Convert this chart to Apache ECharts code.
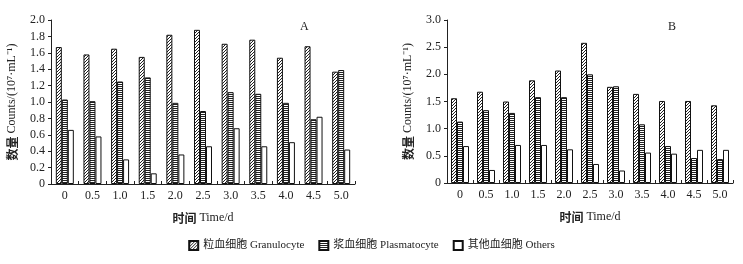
<!DOCTYPE html>
<html>
<head>
<meta charset="utf-8">
<script src="https://cdn.jsdelivr.net/npm/echarts@6/dist/echarts.min.js"></script>
<style>
  html, body { margin: 0; padding: 0; background: #fff; }
  #chart { width: 743px; height: 264px; }
</style>
</head>
<body>
<div id="chart"></div>
<script>
const times = ['0', '0.5', '1.0', '1.5', '2.0', '2.5', '3.0', '3.5', '4.0', '4.5', '5.0'];
const seriesNames = ['粒血细胞 Granulocyte', '浆血细胞 Plasmatocyte', '其他血细胞 Others'];

// panel A
const granA = [1.67, 1.58, 1.65, 1.55, 1.82, 1.88, 1.71, 1.76, 1.54, 1.68, 1.37];
const plasA = [1.03, 1.01, 1.25, 1.30, 0.99, 0.89, 1.12, 1.10, 0.99, 0.79, 1.39];
const otherA = [0.66, 0.58, 0.30, 0.13, 0.36, 0.46, 0.68, 0.46, 0.51, 0.82, 0.42];

// panel B
const granB = [1.56, 1.68, 1.50, 1.89, 2.07, 2.58, 1.77, 1.64, 1.51, 1.51, 1.43];
const plasB = [1.13, 1.34, 1.29, 1.58, 1.58, 2.00, 1.78, 1.08, 0.68, 0.46, 0.44];
const otherB = [0.68, 0.24, 0.70, 0.70, 0.62, 0.35, 0.23, 0.56, 0.54, 0.61, 0.61];

// hatch patterns
function diagPattern() {
  const c = document.createElement('canvas');
  c.width = 3; c.height = 3;
  const g = c.getContext('2d');
  g.fillStyle = '#fff'; g.fillRect(0, 0, 3, 3);
  g.fillStyle = '#222';
  g.fillRect(2, 0, 1, 1); g.fillRect(1, 1, 1, 1); g.fillRect(0, 2, 1, 1);
  return c;
}
function horizPattern() {
  const c = document.createElement('canvas');
  c.width = 2; c.height = 2;
  const g = c.getContext('2d');
  g.fillStyle = '#fff'; g.fillRect(0, 0, 2, 2);
  g.fillStyle = '#222'; g.fillRect(0, 0, 2, 1);
  return c;
}
const fills = [
  { image: diagPattern(), repeat: 'repeat' },
  { image: horizPattern(), repeat: 'repeat' },
  '#fff'
];

const font = '"Liberation Serif", "Noto Sans CJK SC", serif';
const cjk = '"Noto Sans CJK SC", sans-serif';

function yAxis(grid, max, step) {
  return {
    type: 'value', gridIndex: grid, min: 0, max: max, interval: step,
    name: '{b|数量} Counts/(10⁷·mL⁻¹)', nameLocation: 'middle', nameGap: 33,
    nameTextStyle: {
      fontFamily: font, fontSize: 12, color: '#222',
      rich: { b: { fontFamily: cjk, fontSize: 12, fontWeight: 'bold', color: '#222' } }
    },
    axisLine: { show: true, lineStyle: { color: '#222' } },
    axisTick: { show: true, length: 3, lineStyle: { color: '#222' } },
    splitLine: { show: false },
    axisLabel: {
      fontFamily: font, fontSize: 12, color: '#222', margin: 6,
      formatter: v => v === 0 ? '0' : v.toFixed(1)
    }
  };
}
function xAxis(grid) {
  return {
    type: 'category', gridIndex: grid, data: times,
    name: '{b|时间} Time/d', nameLocation: 'middle', nameGap: 28,
    nameTextStyle: {
      fontFamily: font, fontSize: 12, color: '#222',
      rich: { b: { fontFamily: cjk, fontSize: 12, fontWeight: 'bold', color: '#222' } }
    },
    axisLine: { lineStyle: { color: '#222' } },
    axisTick: { show: true, inside: true, length: 3, lineStyle: { color: '#222' } },
    axisLabel: { fontFamily: font, fontSize: 12, color: '#222', margin: 6 }
  };
}

const data = [[granA, plasA, otherA], [granB, plasB, otherB]];
const series = [];
data.forEach((set, gi) => {
  set.forEach((vals, si) => {
    series.push({
      name: seriesNames[si], type: 'bar',
      xAxisIndex: gi, yAxisIndex: gi,
      data: vals, barWidth: 6, barGap: '0%',
      itemStyle: { color: fills[si], borderColor: '#111', borderWidth: 1 },
      emphasis: { disabled: true }
    });
  });
});

const chart = echarts.init(document.getElementById('chart'));
chart.setOption({
  animation: false,
  backgroundColor: '#fff',
  title: [
    { text: 'A', left: 295, top: 16, textStyle: { fontFamily: font, fontSize: 12, fontWeight: 'normal', color: '#222' } },
    { text: 'B', left: 663, top: 16, textStyle: { fontFamily: font, fontSize: 12, fontWeight: 'normal', color: '#222' } }
  ],
  legend: {
    data: seriesNames, left: 'center', top: 235,
    icon: 'rect', itemWidth: 9, itemHeight: 9, itemGap: 14,
    textStyle: { fontFamily: font, fontSize: 11, color: '#222' }
  },
  grid: [
    { left: 51, top: 20, right: 388, bottom: 80 },
    { left: 447, top: 20, right: 10, bottom: 81 }
  ],
  xAxis: [xAxis(0), xAxis(1)],
  yAxis: [yAxis(0, 2.0, 0.2), yAxis(1, 3.0, 0.5)],
  series: series
});
</script>
</body>
</html>
